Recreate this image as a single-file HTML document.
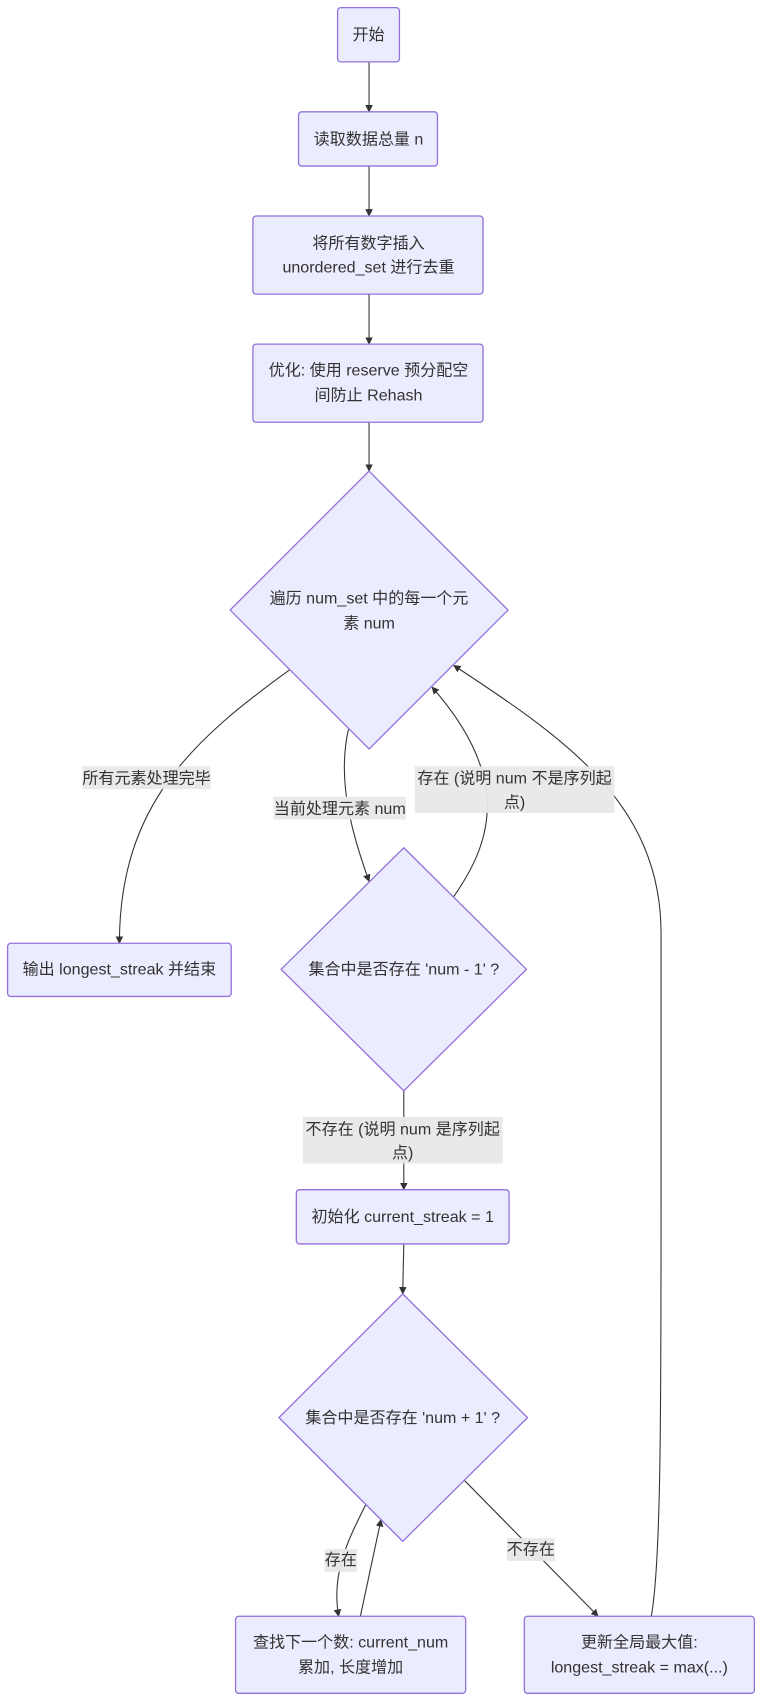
<!DOCTYPE html>
<html><head><meta charset="utf-8"><style>
html,body{margin:0;padding:0;background:#fff;}
svg{display:block;}
text{font-family:"Liberation Sans","Noto Sans CJK SC",sans-serif;font-size:14.8px;fill:#333;text-anchor:middle;}
.n{fill:#ECECFF;stroke:#9370DB;stroke-width:1.2;}
.e{fill:none;stroke:#333;stroke-width:1;}
.lb{fill:#e8e8e8;opacity:0.95;}
</style></head><body>
<svg width="762" height="1702" viewBox="0 0 702 1568" preserveAspectRatio="none" xmlns="http://www.w3.org/2000/svg">
<defs><marker id="a" viewBox="0 0 10 10" refX="9" refY="5" markerWidth="7" markerHeight="7" orient="auto"><path d="M0,0L10,5L0,10z" fill="#333"/></marker></defs>

<!-- edges -->
<path class="e" d="M340,57L340,103" marker-end="url(#a)"/>
<path class="e" d="M340,153L340,199" marker-end="url(#a)"/>
<path class="e" d="M340,271L340,317" marker-end="url(#a)"/>
<path class="e" d="M340,389L340,434" marker-end="url(#a)"/>
<path class="e" d="M267,617C180,680 110,740 110,869" marker-end="url(#a)"/>
<path class="e" d="M321,672C310,720 325,770 340,812" marker-end="url(#a)"/>
<path class="e" d="M418,826C450,780 475,720 398,633" marker-end="url(#a)"/>
<path class="e" d="M372,1005L372,1096" marker-end="url(#a)"/>
<path class="e" d="M372,1146L371,1192" marker-end="url(#a)"/>
<path class="e" d="M337,1386C320,1420 305,1450 312,1489" marker-end="url(#a)"/>
<path class="e" d="M332,1489L351,1400" marker-end="url(#a)"/>
<path class="e" d="M428,1364L551,1489" marker-end="url(#a)"/>
<path class="e" d="M600,1489C609,1440 609,1300 609,1100L609,860C609,740 520,680 418,613" marker-end="url(#a)"/>

<!-- nodes -->
<rect class="n" x="311" y="7" width="57" height="50" rx="3"/>
<text x="339.5" y="37">开始</text>
<rect class="n" x="275" y="103" width="128" height="50" rx="3"/>
<text x="339.5" y="133">读取数据总量 n</text>
<rect class="n" x="233" y="199" width="212" height="72" rx="3"/>
<text x="339.5" y="229">将所有数字插入</text>
<text x="339.5" y="251">unordered_set 进行去重</text>
<rect class="n" x="233" y="317" width="212" height="72" rx="3"/>
<text x="339.5" y="346">优化: 使用 reserve 预分配空</text>
<text x="339.5" y="369">间防止 Rehash</text>
<polygon class="n" points="340,434 468,562 340,690 212,562"/>
<text x="340" y="556">遍历 num_set 中的每一个元</text>
<text x="340" y="579">素 num</text>
<rect class="n" x="7" y="869" width="206" height="49" rx="3"/>
<text x="110" y="898">输出 longest_streak 并结束</text>
<polygon class="n" points="372,781 485,893 372,1005 259,893"/>
<text x="372" y="898">集合中是否存在 'num - 1' ?</text>
<rect class="n" x="273" y="1096" width="196" height="50" rx="3"/>
<text x="371" y="1126">初始化 current_streak = 1</text>
<polygon class="n" points="371,1192 486,1306 371,1420 257,1306"/>
<text x="371" y="1311">集合中是否存在 'num + 1' ?</text>
<rect class="n" x="217" y="1489" width="212" height="71" rx="3"/>
<text x="323" y="1518">查找下一个数: current_num</text>
<text x="323" y="1541">累加, 长度增加</text>
<rect class="n" x="483" y="1489" width="212" height="71" rx="3"/>
<text x="589" y="1518">更新全局最大值:</text>
<text x="589" y="1541">longest_streak = max(...)</text>

<!-- labels -->
<rect class="lb" x="76" y="706" width="118" height="21"/>
<text x="135" y="722">所有元素处理完毕</text>
<rect class="lb" x="252" y="734" width="122" height="21"/>
<text x="313" y="750">当前处理元素 num</text>
<rect class="lb" x="382" y="706" width="184" height="43"/>
<text x="474" y="722">存在 (说明 num 不是序列起</text>
<text x="474" y="744">点)</text>
<rect class="lb" x="279" y="1029" width="184" height="43"/>
<text x="371" y="1045">不存在 (说明 num 是序列起</text>
<text x="371" y="1067">点)</text>
<rect class="lb" x="299" y="1427" width="30" height="21"/>
<text x="314" y="1442">存在</text>
<rect class="lb" x="467" y="1417" width="44" height="21"/>
<text x="489" y="1432">不存在</text>
</svg>
</body></html>
